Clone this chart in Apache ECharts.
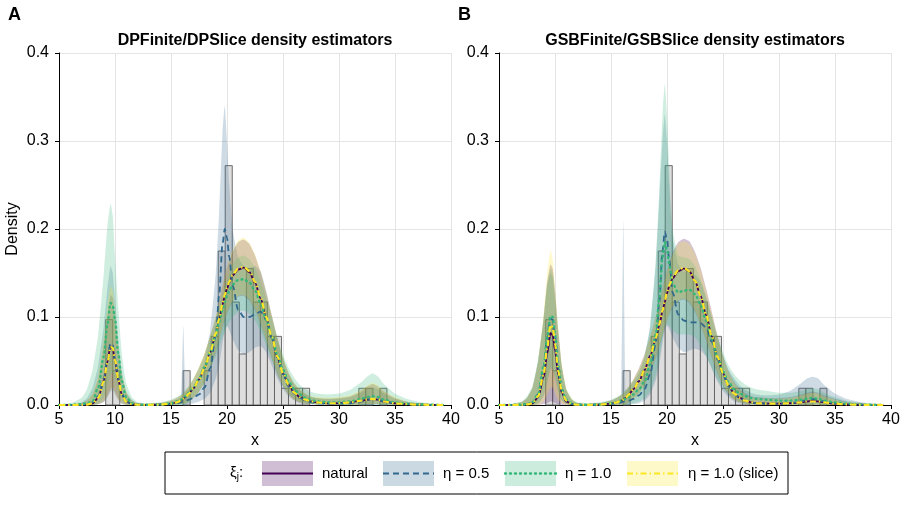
<!DOCTYPE html>
<html>
<head>
<meta charset="utf-8">
<title>density estimators</title>
<script src="https://cdn.jsdelivr.net/npm/echarts@6/dist/echarts.min.js"></script>
<style>
  * { margin: 0; padding: 0 }
  html, body { width: 100%; height: 100%; background: #fff }
  #chart { width: 905px; height: 530px }
</style>
</head>
<body>
<div id="chart"></div>
<script>
// histogram (same data in both panels): bin edges and density
const histLeft  = [9.17, 9.80, 16.08, 17.96, 18.59, 19.22, 19.84, 20.47, 21.10, 21.73, 22.35, 22.98, 23.61, 24.24, 24.87, 25.49, 26.12, 26.75, 31.77, 32.40, 33.65];
const histRight = [9.80, 10.43, 16.71, 18.59, 19.22, 19.84, 20.47, 21.10, 21.73, 22.35, 22.98, 23.61, 24.24, 24.87, 25.49, 26.12, 26.75, 27.38, 32.40, 33.03, 34.28];
const histDens  = [0.097, 0.039, 0.039, 0.039, 0.078, 0.175, 0.272, 0.117, 0.058, 0.155, 0.117, 0.117, 0.078, 0.078, 0.019, 0.019, 0.019, 0.019, 0.019, 0.019, 0.019];

// x positions where the curves were read
const xs = [5, 6, 7, 7.5, 8, 8.5, 9, 9.3, 9.6, 9.8, 10, 10.3, 10.6, 11, 11.5, 12, 13, 14, 15, 15.5, 15.9, 16.1, 16.3, 16.6, 17, 17.5,
  18, 18.5, 19, 19.3, 19.6, 19.8, 20, 20.2, 20.5, 21, 21.5, 22, 22.5, 23, 23.5, 24, 24.5, 25, 25.5, 26, 26.5, 27, 27.5, 28,
  29, 30, 31, 32, 32.5, 33, 33.5, 34, 35, 36, 37, 38, 39.3];

// ---- panel A : DPFinite / DPSlice ----
const aNat = [0, 0, 0.0002, 0.0005, 0.002, 0.008, 0.028, 0.048, 0.067, 0.064, 0.05, 0.028, 0.012, 0.004, 0.001, 0.0003, 0.0002, 0.0005, 0.0015, 0.003, 0.005, 0.007, 0.009, 0.013, 0.019, 0.029,
  0.042, 0.06, 0.08, 0.097, 0.114, 0.124, 0.132, 0.139, 0.147, 0.154, 0.156, 0.151, 0.139, 0.121, 0.099, 0.076, 0.054, 0.036, 0.023, 0.014, 0.009, 0.006, 0.004, 0.003,
  0.002, 0.002, 0.003, 0.005, 0.006, 0.007, 0.006, 0.004, 0.002, 0.001, 0.0005, 0.0002, 0];
const aEta05 = [0, 0, 0.0002, 0.001, 0.003, 0.01, 0.03, 0.052, 0.07, 0.068, 0.053, 0.03, 0.013, 0.004, 0.001, 0.0003, 0.0002, 0.0004, 0.001, 0.002, 0.003, 0.004, 0.005, 0.006, 0.008, 0.012,
  0.02, 0.042, 0.08, 0.125, 0.183, 0.2, 0.19, 0.168, 0.136, 0.108, 0.1, 0.1, 0.103, 0.106, 0.097, 0.076, 0.054, 0.035, 0.021, 0.013, 0.008, 0.005, 0.003, 0.002,
  0.0015, 0.0015, 0.002, 0.004, 0.006, 0.007, 0.006, 0.004, 0.002, 0.001, 0.0005, 0.0002, 0];
const aEta1 = [0, 0.0002, 0.001, 0.002, 0.004, 0.02, 0.055, 0.09, 0.116, 0.113, 0.097, 0.058, 0.027, 0.009, 0.002, 0.0005, 0.0003, 0.0006, 0.002, 0.004, 0.006, 0.008, 0.01, 0.014, 0.02, 0.03,
  0.043, 0.06, 0.079, 0.094, 0.108, 0.117, 0.124, 0.13, 0.137, 0.142, 0.143, 0.139, 0.13, 0.116, 0.097, 0.077, 0.057, 0.04, 0.027, 0.018, 0.012, 0.008, 0.006, 0.004,
  0.003, 0.003, 0.004, 0.007, 0.009, 0.01, 0.009, 0.006, 0.003, 0.0015, 0.0007, 0.0003, 0];
const aSlice = [0, 0, 0.0002, 0.0005, 0.002, 0.008, 0.027, 0.047, 0.066, 0.065, 0.051, 0.029, 0.012, 0.004, 0.001, 0.0003, 0.0002, 0.0005, 0.0015, 0.003, 0.005, 0.007, 0.009, 0.013, 0.019, 0.029,
  0.042, 0.06, 0.081, 0.098, 0.115, 0.125, 0.133, 0.14, 0.148, 0.155, 0.157, 0.152, 0.14, 0.122, 0.1, 0.077, 0.055, 0.036, 0.023, 0.014, 0.009, 0.006, 0.004, 0.003,
  0.002, 0.002, 0.003, 0.005, 0.006, 0.007, 0.006, 0.004, 0.002, 0.001, 0.0005, 0.0002, 0];

const aNatHi = [0, 0.0005, 0.002, 0.005, 0.012, 0.03, 0.07, 0.1, 0.125, 0.122, 0.1, 0.065, 0.035, 0.014, 0.005, 0.002, 0.001, 0.002, 0.005, 0.008, 0.011, 0.013, 0.016, 0.021, 0.029, 0.042,
  0.058, 0.078, 0.1, 0.118, 0.135, 0.146, 0.156, 0.164, 0.174, 0.185, 0.188, 0.183, 0.17, 0.151, 0.127, 0.101, 0.075, 0.053, 0.036, 0.024, 0.017, 0.012, 0.009, 0.008,
  0.007, 0.008, 0.01, 0.016, 0.021, 0.024, 0.021, 0.015, 0.008, 0.004, 0.002, 0.001, 0.0005];
const aNatLo = [0, 0, 0, 0, 0, 0.001, 0.004, 0.01, 0.018, 0.02, 0.015, 0.007, 0.002, 0, 0, 0, 0, 0, 0, 0.0005, 0.001, 0.0015, 0.002, 0.004, 0.008, 0.015,
  0.026, 0.042, 0.06, 0.074, 0.088, 0.097, 0.104, 0.11, 0.117, 0.123, 0.124, 0.119, 0.108, 0.092, 0.073, 0.053, 0.035, 0.021, 0.012, 0.006, 0.003, 0.0015, 0.001, 0.0005,
  0, 0, 0, 0.0005, 0.001, 0.001, 0.001, 0.0005, 0, 0, 0, 0, 0];
const aEta05Hi = [0, 0.0005, 0.003, 0.008, 0.02, 0.045, 0.09, 0.13, 0.158, 0.15, 0.12, 0.075, 0.04, 0.016, 0.006, 0.002, 0.001, 0.002, 0.004, 0.006, 0.01, 0.09, 0.014, 0.017, 0.022, 0.032,
  0.05, 0.085, 0.15, 0.22, 0.31, 0.34, 0.3, 0.25, 0.2, 0.168, 0.158, 0.156, 0.158, 0.152, 0.13, 0.102, 0.076, 0.053, 0.036, 0.025, 0.018, 0.013, 0.01, 0.008,
  0.007, 0.007, 0.009, 0.014, 0.018, 0.02, 0.018, 0.013, 0.007, 0.004, 0.002, 0.001, 0.0005];
const aEta05Lo = [0, 0, 0, 0, 0, 0.0005, 0.003, 0.008, 0.015, 0.017, 0.012, 0.005, 0.001, 0, 0, 0, 0, 0, 0, 0, 0, 0, 0, 0.001, 0.002, 0.004,
  0.007, 0.014, 0.03, 0.045, 0.07, 0.085, 0.09, 0.085, 0.075, 0.062, 0.058, 0.06, 0.065, 0.067, 0.06, 0.045, 0.03, 0.018, 0.01, 0.005, 0.002, 0.001, 0.0005, 0,
  0, 0, 0, 0, 0, 0, 0, 0, 0, 0, 0, 0, 0];
const aEta1Hi = [0.0005, 0.002, 0.008, 0.018, 0.04, 0.08, 0.15, 0.2, 0.229, 0.215, 0.17, 0.11, 0.06, 0.025, 0.009, 0.003, 0.002, 0.003, 0.006, 0.009, 0.012, 0.014, 0.017, 0.022, 0.03, 0.043,
  0.058, 0.078, 0.098, 0.112, 0.126, 0.135, 0.143, 0.151, 0.16, 0.168, 0.17, 0.166, 0.156, 0.141, 0.121, 0.098, 0.076, 0.057, 0.042, 0.031, 0.023, 0.018, 0.015, 0.013,
  0.012, 0.013, 0.017, 0.026, 0.032, 0.036, 0.032, 0.024, 0.013, 0.007, 0.004, 0.002, 0.001];
const aEta1Lo = [0, 0, 0, 0, 0, 0.002, 0.008, 0.02, 0.035, 0.036, 0.028, 0.014, 0.005, 0.001, 0, 0, 0, 0, 0, 0, 0, 0, 0.001, 0.003, 0.008, 0.015,
  0.025, 0.04, 0.056, 0.066, 0.077, 0.083, 0.089, 0.094, 0.1, 0.106, 0.107, 0.104, 0.096, 0.084, 0.068, 0.051, 0.035, 0.022, 0.013, 0.007, 0.004, 0.002, 0.001, 0.0005,
  0, 0, 0, 0, 0, 0.0005, 0, 0, 0, 0, 0, 0, 0];
const aSliceHi = [0, 0.0005, 0.002, 0.005, 0.013, 0.033, 0.075, 0.108, 0.135, 0.13, 0.105, 0.068, 0.036, 0.015, 0.005, 0.002, 0.001, 0.002, 0.005, 0.008, 0.011, 0.013, 0.016, 0.021, 0.03, 0.043,
  0.059, 0.079, 0.101, 0.119, 0.136, 0.147, 0.157, 0.166, 0.176, 0.187, 0.19, 0.184, 0.171, 0.152, 0.128, 0.102, 0.076, 0.054, 0.037, 0.025, 0.018, 0.013, 0.01, 0.009,
  0.008, 0.009, 0.011, 0.017, 0.022, 0.025, 0.022, 0.016, 0.009, 0.004, 0.002, 0.001, 0.0005];
const aSliceLo = [0, 0, 0, 0, 0, 0.001, 0.004, 0.01, 0.017, 0.019, 0.014, 0.006, 0.002, 0, 0, 0, 0, 0, 0, 0.0005, 0.001, 0.0015, 0.002, 0.004, 0.008, 0.015,
  0.026, 0.042, 0.061, 0.075, 0.089, 0.098, 0.105, 0.111, 0.118, 0.124, 0.125, 0.12, 0.109, 0.093, 0.074, 0.054, 0.036, 0.022, 0.012, 0.006, 0.003, 0.0015, 0.001, 0.0005,
  0, 0, 0, 0.0005, 0.001, 0.001, 0.001, 0.0005, 0, 0, 0, 0, 0];

// ---- panel B : GSBFinite / GSBSlice ----
const bNat = [0, 0, 0.0002, 0.0006, 0.002, 0.009, 0.032, 0.058, 0.082, 0.079, 0.062, 0.034, 0.014, 0.004, 0.001, 0.0003, 0.0002, 0.0005, 0.0015, 0.003, 0.005, 0.006, 0.008, 0.012, 0.018, 0.027,
  0.04, 0.056, 0.075, 0.09, 0.106, 0.117, 0.127, 0.135, 0.144, 0.152, 0.155, 0.152, 0.141, 0.124, 0.102, 0.078, 0.055, 0.036, 0.022, 0.013, 0.008, 0.005, 0.003, 0.002,
  0.0015, 0.0015, 0.002, 0.003, 0.004, 0.005, 0.004, 0.003, 0.0015, 0.0007, 0.0003, 0.0001, 0];
const bEta05 = [0, 0, 0.0002, 0.0008, 0.003, 0.012, 0.042, 0.075, 0.098, 0.097, 0.078, 0.042, 0.017, 0.005, 0.001, 0.0003, 0.0002, 0.0004, 0.001, 0.002, 0.003, 0.004, 0.004, 0.005, 0.007, 0.011,
  0.018, 0.035, 0.07, 0.115, 0.175, 0.197, 0.188, 0.165, 0.128, 0.103, 0.096, 0.094, 0.094, 0.093, 0.088, 0.072, 0.052, 0.034, 0.021, 0.013, 0.008, 0.005, 0.003, 0.002,
  0.0015, 0.0015, 0.002, 0.004, 0.006, 0.007, 0.006, 0.004, 0.002, 0.001, 0.0005, 0.0002, 0];
const bEta1 = [0, 0.0001, 0.0004, 0.001, 0.003, 0.013, 0.045, 0.078, 0.101, 0.1, 0.08, 0.044, 0.018, 0.006, 0.002, 0.0005, 0.0003, 0.0006, 0.002, 0.003, 0.005, 0.006, 0.007, 0.009, 0.012, 0.018,
  0.027, 0.046, 0.08, 0.12, 0.168, 0.185, 0.177, 0.16, 0.138, 0.128, 0.13, 0.131, 0.126, 0.114, 0.096, 0.075, 0.055, 0.038, 0.026, 0.018, 0.013, 0.01, 0.008, 0.007,
  0.006, 0.005, 0.005, 0.006, 0.007, 0.008, 0.007, 0.005, 0.003, 0.0015, 0.0007, 0.0003, 0];
const bSlice = [0, 0, 0.0002, 0.0006, 0.002, 0.01, 0.036, 0.065, 0.091, 0.088, 0.069, 0.038, 0.015, 0.005, 0.001, 0.0003, 0.0002, 0.0005, 0.0015, 0.003, 0.005, 0.006, 0.008, 0.012, 0.018, 0.027,
  0.04, 0.056, 0.076, 0.091, 0.107, 0.118, 0.128, 0.136, 0.145, 0.153, 0.156, 0.152, 0.141, 0.124, 0.102, 0.078, 0.055, 0.036, 0.022, 0.013, 0.008, 0.005, 0.003, 0.002,
  0.0015, 0.0015, 0.002, 0.003, 0.004, 0.004, 0.004, 0.003, 0.0015, 0.0007, 0.0003, 0.0001, 0];

const bNatHi = [0, 0.0005, 0.003, 0.008, 0.02, 0.05, 0.1, 0.14, 0.16, 0.155, 0.13, 0.085, 0.045, 0.018, 0.006, 0.002, 0.001, 0.002, 0.005, 0.008, 0.011, 0.013, 0.016, 0.021, 0.029, 0.042,
  0.058, 0.078, 0.1, 0.116, 0.132, 0.143, 0.153, 0.162, 0.173, 0.185, 0.189, 0.186, 0.174, 0.156, 0.132, 0.106, 0.079, 0.056, 0.038, 0.026, 0.018, 0.013, 0.01, 0.009,
  0.008, 0.008, 0.009, 0.012, 0.014, 0.015, 0.014, 0.011, 0.007, 0.004, 0.002, 0.001, 0.0005];
const bNatLo = [0, 0, 0, 0, 0, 0, 0.001, 0.002, 0.004, 0.004, 0.002, 0.001, 0, 0, 0, 0, 0, 0, 0, 0, 0, 0, 0.001, 0.003, 0.007, 0.013,
  0.023, 0.037, 0.053, 0.066, 0.079, 0.088, 0.096, 0.103, 0.111, 0.118, 0.12, 0.116, 0.106, 0.091, 0.073, 0.054, 0.036, 0.022, 0.012, 0.006, 0.003, 0.0015, 0.0005, 0,
  0, 0, 0, 0, 0, 0, 0, 0, 0, 0, 0, 0, 0];
const bEta05Hi = [0, 0.0005, 0.003, 0.008, 0.02, 0.05, 0.1, 0.135, 0.15, 0.145, 0.12, 0.08, 0.043, 0.017, 0.006, 0.002, 0.001, 0.002, 0.005, 0.008, 0.012, 0.21, 0.016, 0.02, 0.026, 0.036,
  0.054, 0.09, 0.16, 0.23, 0.3, 0.33, 0.3, 0.25, 0.19, 0.16, 0.152, 0.15, 0.148, 0.14, 0.122, 0.1, 0.076, 0.056, 0.04, 0.03, 0.022, 0.017, 0.014, 0.012,
  0.011, 0.012, 0.016, 0.025, 0.03, 0.032, 0.03, 0.023, 0.013, 0.007, 0.004, 0.002, 0.001];
const bEta05Lo = [0, 0, 0, 0, 0, 0.002, 0.01, 0.025, 0.04, 0.04, 0.03, 0.015, 0.005, 0.001, 0, 0, 0, 0, 0, 0, 0, 0, 0, 0, 0.001, 0.002,
  0.005, 0.012, 0.028, 0.045, 0.07, 0.085, 0.09, 0.086, 0.077, 0.065, 0.06, 0.062, 0.064, 0.062, 0.055, 0.041, 0.027, 0.016, 0.009, 0.004, 0.002, 0.001, 0, 0,
  0, 0, 0, 0, 0, 0, 0, 0, 0, 0, 0, 0, 0];
const bEta1Hi = [0.0003, 0.001, 0.004, 0.01, 0.022, 0.052, 0.1, 0.138, 0.155, 0.15, 0.125, 0.083, 0.045, 0.019, 0.007, 0.003, 0.002, 0.003, 0.006, 0.009, 0.012, 0.014, 0.017, 0.021, 0.028, 0.039,
  0.056, 0.09, 0.165, 0.24, 0.33, 0.365, 0.33, 0.27, 0.2, 0.17, 0.168, 0.166, 0.158, 0.143, 0.123, 0.1, 0.079, 0.06, 0.045, 0.035, 0.028, 0.023, 0.02, 0.018,
  0.016, 0.014, 0.014, 0.016, 0.018, 0.019, 0.018, 0.014, 0.009, 0.005, 0.003, 0.0015, 0.001];
const bEta1Lo = [0, 0, 0, 0, 0, 0.002, 0.012, 0.028, 0.042, 0.042, 0.032, 0.016, 0.005, 0.001, 0, 0, 0, 0, 0, 0, 0, 0, 0, 0.001, 0.002, 0.004,
  0.008, 0.016, 0.034, 0.052, 0.075, 0.088, 0.092, 0.09, 0.085, 0.08, 0.08, 0.08, 0.077, 0.068, 0.056, 0.042, 0.029, 0.019, 0.012, 0.007, 0.004, 0.002, 0.001, 0,
  0, 0, 0, 0, 0, 0, 0, 0, 0, 0, 0, 0, 0];
const bSliceHi = [0, 0.0005, 0.003, 0.008, 0.02, 0.05, 0.105, 0.15, 0.176, 0.165, 0.135, 0.088, 0.047, 0.019, 0.007, 0.002, 0.001, 0.002, 0.005, 0.008, 0.011, 0.013, 0.016, 0.021, 0.029, 0.041,
  0.057, 0.077, 0.099, 0.115, 0.131, 0.142, 0.152, 0.16, 0.171, 0.183, 0.186, 0.183, 0.172, 0.154, 0.13, 0.104, 0.078, 0.055, 0.037, 0.025, 0.017, 0.012, 0.009, 0.008,
  0.007, 0.007, 0.008, 0.011, 0.013, 0.014, 0.013, 0.01, 0.006, 0.003, 0.002, 0.001, 0.0005];
const bSliceLo = [0, 0, 0, 0, 0, 0, 0.004, 0.012, 0.02, 0.02, 0.014, 0.006, 0.002, 0, 0, 0, 0, 0, 0, 0, 0, 0, 0.001, 0.003, 0.007, 0.013,
  0.023, 0.038, 0.054, 0.067, 0.08, 0.089, 0.097, 0.104, 0.112, 0.119, 0.121, 0.117, 0.107, 0.092, 0.074, 0.055, 0.037, 0.023, 0.013, 0.006, 0.003, 0.0015, 0.0005, 0,
  0, 0, 0, 0, 0, 0, 0, 0, 0, 0, 0, 0, 0];

const panelTitles = ['DPFinite/DPSlice density estimators', 'GSBFinite/GSBSlice density estimators'];
const legendNames = ['natural', 'η = 0.5', 'η = 1.0', 'η = 1.0 (slice)'];

const FONT = '"Liberation Sans", Arial, sans-serif';
const lineColors = ['#440154', '#31688e', '#35b779', '#fde725'];
const bandColors = ['rgba(68,1,84,0.24)', 'rgba(49,104,142,0.24)', 'rgba(53,183,121,0.24)', 'rgba(253,231,37,0.24)'];
const lineStyles = [
  { type: 'solid', width: 1.8 },
  { type: [6, 4], width: 1.8 },
  { type: [1, 4], width: 2.4, cap: 'round' },
  { type: [6, 3, 1.5, 3], width: 2.2 }
];

const chart = echarts.init(document.getElementById('chart'), null, { renderer: 'canvas' });

const histSeries = (g) => ({
  type: 'custom', xAxisIndex: g, yAxisIndex: g, z: 1,
  data: histLeft.map((l, i) => [l, histRight[i], histDens[i]]),
  renderItem: (params, api) => {
    const p0 = api.coord([api.value(0), api.value(2)]);
    const p1 = api.coord([api.value(1), 0]);
    return {
      type: 'rect',
      shape: { x: p0[0], y: p0[1], width: p1[0] - p0[0], height: p1[1] - p0[1] },
      style: { fill: '#dedede', stroke: '#5e5e5e', lineWidth: 0.9 }
    };
  }
});

// credible band drawn as one polygon through the axis scales
const bandSeries = (g, lo, hi, k) => {
  const pts = xs.map((x, i) => [x, lo[i], hi[i]]);
  return {
    type: 'custom', xAxisIndex: g, yAxisIndex: g, z: 2,
    data: pts,
    renderItem: (params, api) => {
      if (params.dataIndex !== 0) return null;
      const poly = [];
      pts.forEach(p => poly.push(api.coord([p[0], p[2]])));
      for (let i = pts.length - 1; i >= 0; i--) poly.push(api.coord([pts[i][0], pts[i][1]]));
      return { type: 'polygon', shape: { points: poly, smooth: 0.15 }, style: { fill: bandColors[k] } };
    }
  };
};

const lineSeries = (g, ys, k) => ({
  type: 'line', xAxisIndex: g, yAxisIndex: g, z: 3 + k,
  data: xs.map((x, i) => [x, ys[i]]),
  showSymbol: false, smooth: 0.3, smoothMonotone: 'x',
  lineStyle: Object.assign({ color: lineColors[k] }, lineStyles[k])
});

const panels = [
  { lines: [aNat, aEta05, aEta1, aSlice], bands: [[aNatLo, aNatHi], [aEta05Lo, aEta05Hi], [aEta1Lo, aEta1Hi], [aSliceLo, aSliceHi]] },
  { lines: [bNat, bEta05, bEta1, bSlice], bands: [[bNatLo, bNatHi], [bEta05Lo, bEta05Hi], [bEta1Lo, bEta1Hi], [bSliceLo, bSliceHi]] }
];

const series = [];
panels.forEach((p, g) => {
  series.push(histSeries(g));
  p.bands.forEach((b, k) => series.push(bandSeries(g, b[0], b[1], k)));
  p.lines.forEach((l, k) => series.push(lineSeries(g, l, k)));
});

const axisCommon = {
  axisLine: { show: true, lineStyle: { color: '#000', width: 1 } },
  axisTick: { show: true, length: 4, lineStyle: { color: '#000' } },
  splitLine: { show: true, lineStyle: { color: '#e4e4e4', width: 1 } },
  nameTextStyle: { color: '#000', fontSize: 16, fontFamily: FONT }
};
const xAxis = [0, 1].map(g => Object.assign({}, axisCommon, {
  type: 'value', gridIndex: g, min: 5, max: 40, interval: 5,
  name: 'x', nameLocation: 'middle', nameGap: 22,
  axisLabel: { color: '#000', fontSize: 16, fontFamily: FONT, margin: 7, showMaxLabel: true, showMinLabel: true }
}));
const yAxis = [0, 1].map(g => Object.assign({}, axisCommon, {
  type: 'value', gridIndex: g, min: 0, max: 0.4, interval: 0.1,
  name: g === 0 ? 'Density' : '', nameLocation: 'middle', nameGap: 38,
  axisLabel: { color: '#000', fontSize: 16, fontFamily: FONT, margin: 10, formatter: v => v.toFixed(1) }
}));

// legend box built from graphic elements
const legend = [{ type: 'rect', shape: { x: 165, y: 452, width: 623, height: 42 }, style: { fill: '#fff', stroke: '#000', lineWidth: 1 }, z: 10 },
  { type: 'text', x: 230, y: 473, z: 11, style: { text: '{a|ξ}{b|j}{a|:}', rich: { a: { fontSize: 15, fontFamily: FONT, fill: '#000' }, b: { fontSize: 10, fontFamily: FONT, fill: '#000', padding: [8, 0, 0, 0] } }, verticalAlign: 'middle' } }];
const keyX = [262, 383, 505, 627];
const labX = [322, 443, 565, 688];
keyX.forEach((kx, k) => {
  legend.push({ type: 'rect', z: 11, shape: { x: kx, y: 461, width: 51, height: 25 }, style: { fill: bandColors[k].replace('0.24', '0.25') } });
  legend.push({ type: 'line', z: 12, shape: { x1: kx, y1: 473.5, x2: kx + 51, y2: 473.5 },
    style: { stroke: lineColors[k], lineWidth: lineStyles[k].width, lineDash: lineStyles[k].type === 'solid' ? null : lineStyles[k].type, lineCap: lineStyles[k].cap || 'butt' } });
  legend.push({ type: 'text', z: 12, x: labX[k], y: 473.5, style: { text: legendNames[k], fontSize: 15, fontFamily: FONT, fill: '#000', verticalAlign: 'middle' } });
});

const titles = [
  { type: 'text', x: 8, y: 6, style: { text: 'A', fontSize: 18, fontWeight: 'bold', fontFamily: FONT, fill: '#000' } },
  { type: 'text', x: 458, y: 6, style: { text: 'B', fontSize: 18, fontWeight: 'bold', fontFamily: FONT, fill: '#000' } },
  { type: 'text', x: 255, y: 33, style: { text: panelTitles[0], fontSize: 16, fontWeight: 'bold', fontFamily: FONT, fill: '#000', align: 'center' } },
  { type: 'text', x: 695, y: 33, style: { text: panelTitles[1], fontSize: 16, fontWeight: 'bold', fontFamily: FONT, fill: '#000', align: 'center' } }
];

chart.setOption({
  animation: false,
  backgroundColor: '#fff',
  grid: [
    { left: 59, top: 53, width: 392, height: 352 },
    { left: 499, top: 53, width: 392, height: 352 }
  ],
  xAxis: xAxis,
  yAxis: yAxis,
  series: series,
  graphic: titles.concat(legend)
});
</script>
</body>
</html>
